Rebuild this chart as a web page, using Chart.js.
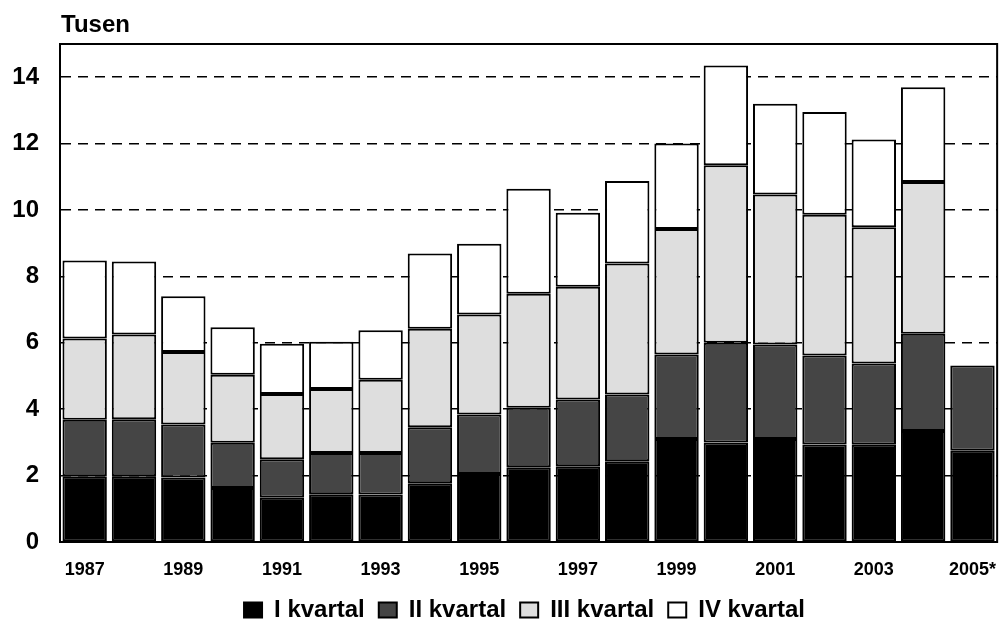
<!DOCTYPE html>
<html>
<head>
<meta charset="utf-8">
<script src="https://cdn.jsdelivr.net/npm/chart.js@4"></script>
<style>
  html, body { margin: 0; padding: 0; background: #fff; }
  #wrap { width: 999px; height: 622px; }
</style>
</head>
<body>
<div id="wrap"><canvas id="kvartal"></canvas></div>
<script>
const aar = ["1987", "1988", "1989", "1990", "1991", "1992", "1993", "1994", "1995", "1996",
             "1997", "1998", "1999", "2000", "2001", "2002", "2003", "2004", "2005*"];
const kvartal1 = [1.98, 1.98, 1.94, 1.63, 1.33, 1.44, 1.43, 1.77, 2.05, 2.25,
                  2.28, 2.43, 3.10, 3.00, 3.10, 2.94, 2.93, 3.34, 2.75];
const kvartal2 = [1.70, 1.72, 1.60, 1.36, 1.16, 1.24, 1.25, 1.69, 1.79, 1.79,
                  2.01, 2.01, 2.55, 3.00, 2.85, 2.68, 2.45, 2.93, 2.57];
const kvartal3 = [2.45, 2.55, 2.18, 2.05, 1.97, 1.93, 2.21, 2.96, 3.01, 3.44,
                  3.40, 3.95, 3.78, 5.35, 4.52, 4.24, 4.10, 4.57, null];
const kvartal4 = [2.35, 2.20, 1.68, 1.43, 1.51, 1.42, 1.49, 2.27, 2.13, 3.16,
                  2.23, 2.48, 2.57, 3.00, 2.73, 3.09, 2.64, 2.86, null];
const yTicks = [0, 2, 4, 6, 8, 10, 12, 14];

const font = "'Liberation Sans', Arial, sans-serif";

// ramme rundt plottet + "Tusen" oppe til venstre, legenden litt til hoyre
const ramme = {
    id: "ramme",
    afterLayout(chart) {
        chart.legend.left += 25;
        chart.legend.right += 25;
    },
    afterDraw(chart) {
        const { ctx, chartArea } = chart;
        ctx.save();
        ctx.strokeStyle = "#000";
        ctx.lineWidth = 2;
        ctx.strokeRect(chartArea.left, chartArea.top, chartArea.right - chartArea.left, chartArea.bottom - chartArea.top);
        ctx.fillStyle = "#000";
        ctx.font = "bold 24px " + font;
        ctx.textBaseline = "alphabetic";
        ctx.fillText("Tusen", chartArea.left + 1, 32);
        ctx.restore();
    },
};

function serie(label, data, farge) {
    return {
        label: label,
        data: data,
        backgroundColor: farge,
        borderColor: "#000",
        borderWidth: 2,
        borderSkipped: false,
        categoryPercentage: 1,
        barPercentage: 0.9,
    };
}

new Chart(document.getElementById("kvartal"), {
    type: "bar",
    data: {
        labels: aar,
        datasets: [
            serie("I kvartal", kvartal1, "#000000"),
            serie("II kvartal", kvartal2, "#454545"),
            serie("III kvartal", kvartal3, "#dedede"),
            serie("IV kvartal", kvartal4, "#ffffff"),
        ],
    },
    options: {
        responsive: true,
        maintainAspectRatio: false,
        animation: false,
        layout: { padding: { top: 44, right: 0, left: 0, bottom: -10 } },
        plugins: {
            title: { display: false },
            tooltip: { enabled: false },
            legend: {
                position: "bottom",
                labels: {
                    color: "#000",
                    font: { family: font, size: 24, weight: "bold" },
                    boxWidth: 18,
                    boxHeight: 15,
                    padding: 14,
                },
            },
        },
        scales: {
            x: {
                stacked: true,
                afterFit: function (axis) { axis.height = 42; },
                grid: { display: true, drawOnChartArea: false, color: "rgba(0,0,0,0)", drawTicks: true, tickLength: 14 },
                border: { display: true, color: "#000", width: 2 },
                ticks: {
                    autoSkip: false,
                    maxRotation: 0,
                    padding: 3,
                    color: "#000",
                    font: { family: font, size: 18, weight: "bold" },
                    callback: function (v, i) { return i % 2 === 0 ? aar[i] : ""; },
                },
            },
            y: {
                stacked: true,
                min: 0,
                max: 15,
                afterBuildTicks: function (axis) { axis.ticks = yTicks.map(v => ({ value: v })); },
                afterFit: function (axis) { axis.width = 60; },
                grid: {
                    color: ctx => (ctx.tick && ctx.tick.value > 0 ? "#000" : "rgba(0,0,0,0)"),
                    lineWidth: 1.5,
                    drawTicks: false,
                },
                border: { display: true, color: "#000", width: 2, dash: [10, 7] },
                ticks: {
                    padding: 21,
                    color: "#000",
                    font: { family: font, size: 24, weight: "bold" },
                },
            },
        },
    },
    plugins: [ramme],
});
</script>
</body>
</html>
